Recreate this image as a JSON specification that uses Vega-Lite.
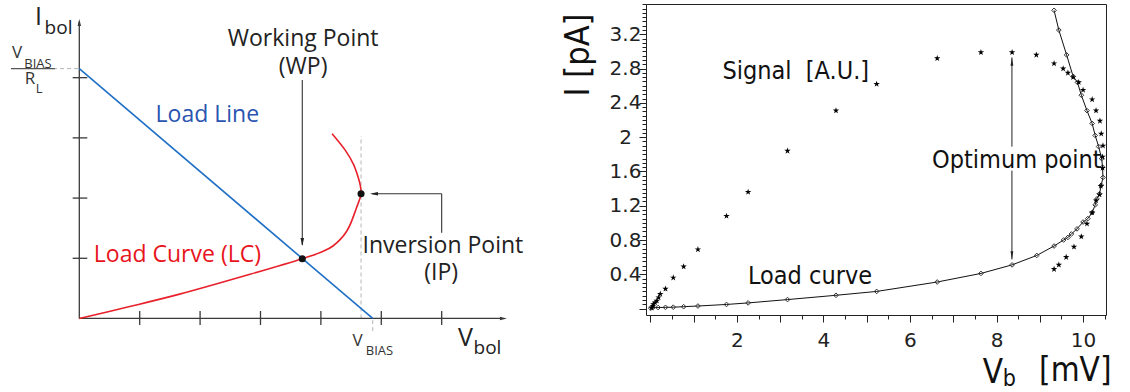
{
  "$schema": "https://vega.github.io/schema/vega-lite/v6.json",
  "padding": {"left": 0, "top": 3, "right": 0, "bottom": 0},
  "background": "white",
  "config": {"view": {"stroke": null}},
  "bounds": "flush",
  "spacing": 86,
  "datasets": {
    "axesL": [{"x": 0, "y": 0, "x2": 7.0, "y2": 0}, {"x": 0, "y": 0, "x2": 0, "y2": 4.93}],
    "ticksL": [
      {"x": 1, "y": -0.108, "x2": 1, "y2": 0.125}, {"x": 2, "y": -0.108, "x2": 2, "y2": 0.125},
      {"x": 3, "y": -0.108, "x2": 3, "y2": 0.125}, {"x": 4, "y": -0.108, "x2": 4, "y2": 0.125},
      {"x": 5, "y": -0.108, "x2": 5, "y2": 0.125}, {"x": 6, "y": -0.108, "x2": 6, "y2": 0.125},
      {"x": -0.11, "y": 1, "x2": 0.132, "y2": 1}, {"x": -0.11, "y": 2, "x2": 0.132, "y2": 2},
      {"x": -0.11, "y": 3, "x2": 0.132, "y2": 3}, {"x": -0.11, "y": 4, "x2": 0.132, "y2": 4}
    ],
    "dashL": [
      {"x": -0.435, "y": 4.15, "x2": 0, "y2": 4.15},
      {"x": 4.665, "y": 0, "x2": 4.665, "y2": 3.03},
      {"x": 4.858, "y": -0.21, "x2": 4.858, "y2": 0}
    ],
    "fracL": [{"x": -1.131, "y": 4.15, "x2": -0.404, "y2": 4.15}],
    "loadLine": [{"x": 0, "y": 4.15, "x2": 4.858, "y2": 0}],
    "curveL": [
      {"i": 0, "x": 0, "y": 0}, {"i": 1, "x": 0.8, "y": 0.19}, {"i": 2, "x": 1.645, "y": 0.4},
      {"i": 3, "x": 2.826, "y": 0.734}, {"i": 4, "x": 3.692, "y": 0.993}, {"i": 5, "x": 4.0, "y": 1.1},
      {"i": 6, "x": 4.2, "y": 1.204}, {"i": 7, "x": 4.43, "y": 1.453}, {"i": 8, "x": 4.59, "y": 1.84},
      {"i": 9, "x": 4.665, "y": 2.073}, {"i": 10, "x": 4.65, "y": 2.22}, {"i": 11, "x": 4.6, "y": 2.4},
      {"i": 12, "x": 4.54, "y": 2.56}, {"i": 13, "x": 4.4, "y": 2.8}, {"i": 14, "x": 4.185, "y": 3.07}
    ],
    "annoL": [
      {"x": 3.692, "y": 3.96, "x2": 3.692, "y2": 1.22},
      {"x": 6.0, "y": 1.425, "x2": 6.0, "y2": 2.073},
      {"x": 6.0, "y": 2.073, "x2": 4.85, "y2": 2.073}
    ],
    "dotsL": [{"x": 3.692, "y": 0.993, "p": "WP"}, {"x": 4.665, "y": 2.073, "p": "IP"}],
    "textL": [
      {"t": "Working Point", "x": 3.706, "y": 4.527, "g": "label"},
      {"t": "(WP)", "x": 3.706, "y": 4.06, "g": "label"},
      {"t": "Inversion Point", "x": 6.02, "y": 1.093, "g": "label"},
      {"t": "(IP)", "x": 5.99, "y": 0.64, "g": "label"},
      {"t": "Load Line", "x": 2.12, "y": 3.264, "g": "line"},
      {"t": "Load Curve (LC)", "x": 1.624, "y": 0.938, "g": "curve"},
      {"t": "I", "x": -0.675, "y": 4.87, "g": "big"},
      {"t": "V", "x": 6.394, "y": -0.457, "g": "big"},
      {"t": "bol", "x": -0.344, "y": 4.726, "g": "sub"},
      {"t": "bol", "x": 6.758, "y": -0.59, "g": "sub"},
      {"t": "V", "x": -1.031, "y": 4.327, "g": "mid"},
      {"t": "V", "x": 4.606, "y": -0.457, "g": "mid"},
      {"t": "R", "x": -0.816, "y": 3.895, "g": "mid"},
      {"t": "BIAS", "x": -0.684, "y": 4.161, "g": "small"},
      {"t": "BIAS", "x": 4.97, "y": -0.606, "g": "small"},
      {"t": "L", "x": -0.667, "y": 3.746, "g": "small"}
    ],
    "lc": [
      {"i": 0, "x": 0.01, "y": 0.005}, {"i": 1, "x": 0.05, "y": 0.01}, {"i": 2, "x": 0.18, "y": 0.012},
      {"i": 3, "x": 0.35, "y": 0.014}, {"i": 4, "x": 0.53, "y": 0.016}, {"i": 5, "x": 0.77, "y": 0.022},
      {"i": 6, "x": 1.1, "y": 0.03}, {"i": 7, "x": 1.76, "y": 0.048}, {"i": 8, "x": 2.26, "y": 0.066},
      {"i": 9, "x": 3.17, "y": 0.105}, {"i": 10, "x": 4.29, "y": 0.155}, {"i": 11, "x": 5.23, "y": 0.2},
      {"i": 12, "x": 6.63, "y": 0.31}, {"i": 13, "x": 7.64, "y": 0.41}, {"i": 14, "x": 8.36, "y": 0.51},
      {"i": 15, "x": 8.93, "y": 0.62}, {"i": 16, "x": 9.33, "y": 0.73}, {"i": 17, "x": 9.55, "y": 0.8},
      {"i": 18, "x": 9.65, "y": 0.83}, {"i": 19, "x": 9.73, "y": 0.87}, {"i": 20, "x": 9.86, "y": 0.93},
      {"i": 21, "x": 10.0, "y": 1.01}, {"i": 22, "x": 10.11, "y": 1.05}, {"i": 23, "x": 10.21, "y": 1.12},
      {"i": 24, "x": 10.28, "y": 1.21}, {"i": 25, "x": 10.32, "y": 1.28}, {"i": 26, "x": 10.38, "y": 1.34},
      {"i": 27, "x": 10.42, "y": 1.44}, {"i": 28, "x": 10.46, "y": 1.53}, {"i": 29, "x": 10.45, "y": 1.65},
      {"i": 30, "x": 10.43, "y": 1.75}, {"i": 31, "x": 10.36, "y": 1.89}, {"i": 32, "x": 10.28, "y": 2.02},
      {"i": 33, "x": 10.21, "y": 2.16}, {"i": 34, "x": 10.09, "y": 2.31}, {"i": 35, "x": 9.96, "y": 2.49},
      {"i": 36, "x": 9.87, "y": 2.64}, {"i": 37, "x": 9.77, "y": 2.71}, {"i": 38, "x": 9.62, "y": 2.96},
      {"i": 39, "x": 9.44, "y": 3.25}, {"i": 40, "x": 9.33, "y": 3.48}
    ],
    "sig": [
      {"x": 0.03, "y": 0.01}, {"x": 0.06, "y": 0.03}, {"x": 0.07, "y": 0.05}, {"x": 0.11, "y": 0.07},
      {"x": 0.15, "y": 0.09}, {"x": 0.19, "y": 0.13}, {"x": 0.23, "y": 0.17}, {"x": 0.35, "y": 0.23},
      {"x": 0.53, "y": 0.36}, {"x": 0.77, "y": 0.49}, {"x": 1.1, "y": 0.69}, {"x": 1.76, "y": 1.08},
      {"x": 2.26, "y": 1.36}, {"x": 3.17, "y": 1.84}, {"x": 4.29, "y": 2.31}, {"x": 5.23, "y": 2.62},
      {"x": 6.63, "y": 2.92}, {"x": 7.64, "y": 2.99}, {"x": 8.36, "y": 2.99}, {"x": 8.92, "y": 2.96},
      {"x": 9.33, "y": 2.86}, {"x": 9.54, "y": 2.8}, {"x": 9.65, "y": 2.75}, {"x": 9.77, "y": 2.7},
      {"x": 9.9, "y": 2.64}, {"x": 10.0, "y": 2.55}, {"x": 10.21, "y": 2.44}, {"x": 10.3, "y": 2.31},
      {"x": 10.39, "y": 2.19}, {"x": 10.42, "y": 2.04}, {"x": 10.46, "y": 1.9}, {"x": 10.45, "y": 1.77},
      {"x": 10.45, "y": 1.64}, {"x": 10.41, "y": 1.43}, {"x": 10.38, "y": 1.33}, {"x": 10.3, "y": 1.26},
      {"x": 10.21, "y": 1.12}, {"x": 10.09, "y": 0.99}, {"x": 9.96, "y": 0.84}, {"x": 9.79, "y": 0.72},
      {"x": 9.61, "y": 0.6}, {"x": 9.44, "y": 0.51}, {"x": 9.33, "y": 0.46}
    ],
    "optArrow": [
      {"x": 8.356, "y": 2.93, "x2": 8.356, "y2": 1.89},
      {"x": 8.356, "y": 1.61, "x2": 8.356, "y2": 0.574}
    ],
    "textR": [
      {"t": "Signal\u00a0\u00a0[A.U.]", "x": 3.36, "y": 2.68},
      {"t": "Load curve", "x": 3.69, "y": 0.287},
      {"t": "Optimum point", "x": 8.47, "y": 1.64}
    ],
    "titleR": [
      {"t": "V", "x": 7.915, "y": -0.868, "g": "big"},
      {"t": "[mV]", "x": 9.82, "y": -0.845, "g": "big"},
      {"t": "b", "x": 8.296, "y": -0.903, "g": "sub"}
    ]
  },
  "hconcat": [
    {
      "width": 560,
      "height": 389,
      "encoding": {
        "x": {"field": "x", "type": "quantitative", "scale": {"domain": [-1.313, 7.959], "nice": false, "zero": false}, "axis": null},
        "y": {"field": "y", "type": "quantitative", "scale": {"domain": [-1.238, 5.224], "nice": false, "zero": false}, "axis": null}
      },
      "layer": [
        {"data": {"name": "dashL"}, "mark": {"type": "rule", "color": "#b5b5b5", "strokeWidth": 1, "strokeDash": [4, 3]}, "encoding": {"x2": {"field": "x2"}, "y2": {"field": "y2"}}},
        {"data": {"name": "axesL"}, "mark": {"type": "rule", "color": "#3a3a3a", "strokeWidth": 1.3}, "encoding": {"x2": {"field": "x2"}, "y2": {"field": "y2"}}},
        {"data": {"name": "ticksL"}, "mark": {"type": "rule", "color": "#3a3a3a", "strokeWidth": 1.3}, "encoding": {"x2": {"field": "x2"}, "y2": {"field": "y2"}}},
        {"data": {"name": "fracL"}, "mark": {"type": "rule", "color": "#555555", "strokeWidth": 1.2}, "encoding": {"x2": {"field": "x2"}, "y2": {"field": "y2"}}},
        {"data": {"name": "loadLine"}, "mark": {"type": "rule", "color": "#1f6fc5", "strokeWidth": 1.6}, "encoding": {"x2": {"field": "x2"}, "y2": {"field": "y2"}}},
        {"data": {"name": "curveL"}, "mark": {"type": "line", "color": "#e8202a", "strokeWidth": 1.6, "interpolate": "catmull-rom"}, "encoding": {"order": {"field": "i", "type": "quantitative"}}},
        {"data": {"name": "annoL"}, "mark": {"type": "rule", "color": "#333333", "strokeWidth": 1.1}, "encoding": {"x2": {"field": "x2"}, "y2": {"field": "y2"}}},
        {"data": {"values": [{"x": 3.692, "y": 1.27}]}, "mark": {"type": "point", "shape": "M0,1L-0.45,-1L0.45,-1Z", "filled": true, "color": "#222222", "size": 64, "opacity": 1}},
        {"data": {"values": [{"x": 4.879, "y": 2.073}]}, "mark": {"type": "point", "shape": "M-1,0L1,-0.45L1,0.45Z", "filled": true, "color": "#222222", "size": 64, "opacity": 1}},
        {"data": {"values": [{"x": 0, "y": 4.917}]}, "mark": {"type": "point", "shape": "M0,-1L-0.5,1L0.5,1Z", "filled": true, "color": "#3a3a3a", "size": 49, "opacity": 1}},
        {"data": {"values": [{"x": 7.023, "y": 0}]}, "mark": {"type": "point", "shape": "M1,0L-1,-0.5L-1,0.5Z", "filled": true, "color": "#3a3a3a", "size": 49, "opacity": 1}},
        {"data": {"name": "dotsL"}, "mark": {"type": "point", "shape": "circle", "filled": true, "color": "#111111", "size": 50, "opacity": 1}},
        {"data": {"name": "textL"}, "transform": [{"filter": "datum.g == 'label'"}], "mark": {"type": "text", "font": "Open Sans", "fontSize": 23, "color": "#222222", "align": "center", "baseline": "alphabetic"}, "encoding": {"text": {"field": "t"}}},
        {"data": {"name": "textL"}, "transform": [{"filter": "datum.g == 'line'"}], "mark": {"type": "text", "font": "Open Sans", "fontSize": 23, "color": "#2a55b0", "align": "center", "baseline": "alphabetic"}, "encoding": {"text": {"field": "t"}}},
        {"data": {"name": "textL"}, "transform": [{"filter": "datum.g == 'curve'"}], "mark": {"type": "text", "font": "Open Sans", "fontSize": 23, "color": "#e8141c", "align": "center", "baseline": "alphabetic"}, "encoding": {"text": {"field": "t"}}},
        {"data": {"name": "textL"}, "transform": [{"filter": "datum.g == 'big'"}], "mark": {"type": "text", "font": "Open Sans", "fontSize": 25, "color": "#222222", "align": "center", "baseline": "alphabetic"}, "encoding": {"text": {"field": "t"}}},
        {"data": {"name": "textL"}, "transform": [{"filter": "datum.g == 'sub'"}], "mark": {"type": "text", "font": "Open Sans", "fontSize": 19, "color": "#222222", "align": "center", "baseline": "alphabetic"}, "encoding": {"text": {"field": "t"}}},
        {"data": {"name": "textL"}, "transform": [{"filter": "datum.g == 'mid'"}], "mark": {"type": "text", "font": "Open Sans", "fontSize": 17, "color": "#333333", "align": "center", "baseline": "alphabetic"}, "encoding": {"text": {"field": "t"}}},
        {"data": {"name": "textL"}, "transform": [{"filter": "datum.g == 'small'"}], "mark": {"type": "text", "font": "Open Sans", "fontSize": 13, "color": "#333333", "align": "center", "baseline": "alphabetic"}, "encoding": {"text": {"field": "t"}}}
      ]
    },
    {
      "width": 460,
      "height": 311,
      "view": {"stroke": "#222222", "strokeWidth": 1},
      "resolve": {"axis": {"x": "independent", "y": "independent"}},
      "encoding": {
        "x": {"field": "x", "type": "quantitative", "scale": {"domain": [-0.1, 10.53], "nice": false, "zero": false}, "axis": null},
        "y": {"field": "y", "type": "quantitative", "scale": {"domain": [-0.075, 3.554], "nice": false, "zero": false}, "axis": null}
      },
      "layer": [
        {
          "data": {"name": "lc"},
          "mark": {"type": "line", "color": "#111111", "strokeWidth": 1},
          "encoding": {
            "x": {"field": "x", "type": "quantitative", "scale": {"domain": [-0.1, 10.53], "nice": false, "zero": false},
              "axis": {"orient": "bottom", "values": [0, 1, 2, 3, 4, 5, 6, 7, 8, 9, 10], "tickSize": 7, "tickColor": "#222222", "tickWidth": 1, "domain": false, "grid": false, "title": null,
                "labelExpr": "datum.value % 2 == 0 && datum.value > 0 ? datum.label : ''", "labelFont": "DejaVu Sans", "labelFontSize": 20, "labelColor": "#222222", "labelPadding": 8, "labelFlush": false, "labelOverlap": false}},
            "y": {"field": "y", "type": "quantitative", "scale": {"domain": [-0.075, 3.554], "nice": false, "zero": false},
              "axis": {"orient": "left", "values": [0, 0.4, 0.8, 1.2, 1.6, 2, 2.4, 2.8, 3.2], "tickSize": 7, "tickColor": "#222222", "tickWidth": 1, "domain": false, "grid": false, "format": "~g",
                "labelExpr": "datum.value > 0 ? datum.label : ''", "labelFont": "DejaVu Sans", "labelFontSize": 20, "labelColor": "#222222", "labelAlign": "center", "labelBaseline": "middle", "labelPadding": 14, "labelFlush": false, "labelOverlap": false,
                "title": "I [pA]", "titleFont": "'DejaVu Sans Condensed', 'DejaVu Sans', sans-serif", "titleFontSize": 34, "titleFontWeight": "normal", "titleColor": "#111111", "titleAngle": 270, "titleAlign": "right", "titleBaseline": "alphabetic", "titleX": -58, "titleY": 9}},
            "order": {"field": "i", "type": "quantitative"}
          }
        },
        {
          "data": {"name": "lc"},
          "mark": {"type": "point", "shape": "diamond", "filled": false, "color": "#333333", "size": 22, "strokeWidth": 1, "opacity": 1},
          "encoding": {
            "x": {"field": "x", "type": "quantitative", "scale": {"domain": [-0.1, 10.53], "nice": false, "zero": false},
              "axis": {"orient": "bottom", "values": [0, 0.5, 1, 1.5, 2, 2.5, 3, 3.5, 4, 4.5, 5, 5.5, 6, 6.5, 7, 7.5, 8, 8.5, 9, 9.5, 10, 10.5], "tickSize": 4, "tickColor": "#222222", "tickWidth": 1, "labels": false, "domain": false, "grid": false, "title": null}},
            "y": {"field": "y", "type": "quantitative", "scale": {"domain": [-0.075, 3.554], "nice": false, "zero": false},
              "axis": {"orient": "left", "values": [0, 0.05, 0.1, 0.15, 0.2, 0.25, 0.3, 0.35, 0.4, 0.45, 0.5, 0.55, 0.6, 0.65, 0.7, 0.75, 0.8, 0.85, 0.9, 0.95, 1, 1.05, 1.1, 1.15, 1.2, 1.25, 1.3, 1.35, 1.4, 1.45, 1.5, 1.55, 1.6, 1.65, 1.7, 1.75, 1.8, 1.85, 1.9, 1.95, 2, 2.05, 2.1, 2.15, 2.2, 2.25, 2.3, 2.35, 2.4, 2.45, 2.5, 2.55, 2.6, 2.65, 2.7, 2.75, 2.8, 2.85, 2.9, 2.95, 3, 3.05, 3.1, 3.15, 3.2, 3.25, 3.3, 3.35, 3.4, 3.45, 3.5, 3.55], "tickSize": 4, "tickColor": "#222222", "tickWidth": 1, "labels": false, "domain": false, "grid": false, "title": null}}
          }
        },
        {
          "data": {"name": "sig"},
          "mark": {"type": "point", "shape": "M0,-1L0.2245,-0.309L0.951,-0.309L0.363,0.118L0.588,0.809L0,0.382L-0.588,0.809L-0.363,0.118L-0.951,-0.309L-0.2245,-0.309Z", "filled": true, "color": "#000000", "size": 46, "opacity": 1}
        },
        {
          "data": {"name": "optArrow"},
          "mark": {"type": "rule", "color": "#222222", "strokeWidth": 1},
          "encoding": {"x2": {"field": "x2"}, "y2": {"field": "y2"}}
        },
        {"data": {"values": [{"x": 8.356, "y": 2.881}]}, "mark": {"type": "point", "shape": "M0,-1L-0.35,1L0.35,1Z", "filled": true, "color": "#222222", "size": 64, "opacity": 1}},
        {"data": {"values": [{"x": 8.356, "y": 0.622}]}, "mark": {"type": "point", "shape": "M0,1L-0.35,-1L0.35,-1Z", "filled": true, "color": "#222222", "size": 64, "opacity": 1}},
        {
          "data": {"name": "textR"},
          "mark": {"type": "text", "font": "'DejaVu Sans Condensed', 'DejaVu Sans', sans-serif", "fontSize": 25, "color": "#111111", "align": "center", "baseline": "alphabetic"},
          "encoding": {"text": {"field": "t"}}
        },
        {
          "data": {"name": "titleR"},
          "transform": [{"filter": "datum.g == 'big'"}],
          "mark": {"type": "text", "font": "'DejaVu Sans Condensed', 'DejaVu Sans', sans-serif", "fontSize": 33, "color": "#111111", "align": "center", "baseline": "alphabetic"},
          "encoding": {"text": {"field": "t"}}
        },
        {
          "data": {"name": "titleR"},
          "transform": [{"filter": "datum.g == 'sub'"}],
          "mark": {"type": "text", "font": "'DejaVu Sans Condensed', 'DejaVu Sans', sans-serif", "fontSize": 23, "color": "#111111", "align": "center", "baseline": "alphabetic"},
          "encoding": {"text": {"field": "t"}}
        }
      ]
    }
  ]
}
